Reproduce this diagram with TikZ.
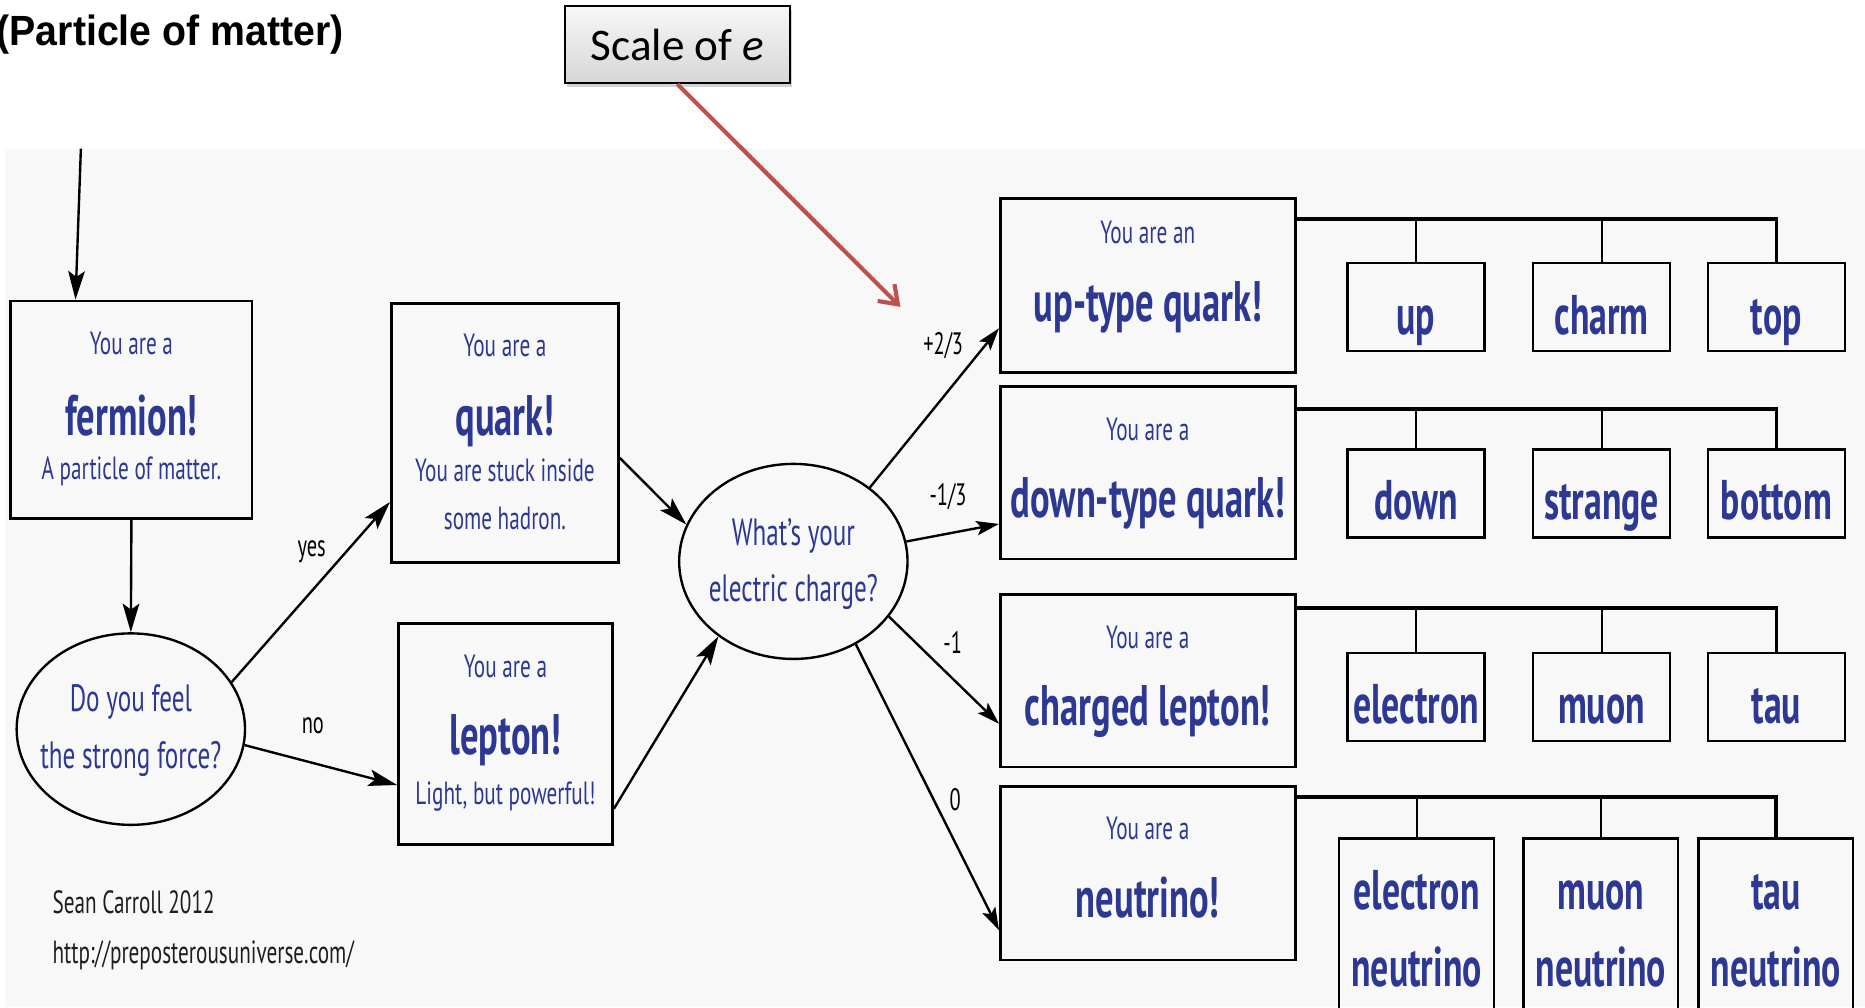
\documentclass[tikz,border=0pt]{standalone}
\usepackage{fontspec}
\usetikzlibrary{arrows.meta,shapes.geometric,shadows}
\setmainfont{PT Sans}
% condensed sans for the flow chart, plain sans for the callout
\newfontfamily\condf[FakeStretch=0.66]{PT Sans}
\newfontfamily\condbf[FakeStretch=0.64]{PT Sans Bold}
\newfontfamily\titlef[FakeStretch=0.93]{Liberation Sans}
\newfontfamily\calloutf{Carlito}
\definecolor{inkblue}{RGB}{44,56,145}
\definecolor{panelgray}{RGB}{248,248,248}
\definecolor{calloutred}{RGB}{192,80,77}
\definecolor{credit}{RGB}{30,30,30}

\tikzset{
  bx/.style={draw, line width=2.2pt, inner sep=0pt},
  leaf/.style={draw, line width=2pt, inner sep=0pt, minimum width=115pt, minimum height=74pt},
  leaftall/.style={draw, line width=2pt, inner sep=0pt, minimum width=130pt, minimum height=170pt},
  oval/.style={draw, ellipse, line width=2pt, inner sep=0pt},
  small/.style={inner sep=0pt, anchor=base, text=inkblue, font=\condf\fontsize{27}{30}\selectfont},
  quest/.style={inner sep=0pt, anchor=base, text=inkblue, font=\condf\fontsize{32}{35}\selectfont},
  big/.style={inner sep=0pt, anchor=base, text=inkblue, font=\condbf\fontsize{48}{52}\selectfont},
  leaftxt/.style={inner sep=0pt, anchor=base, text=inkblue, font=\condbf\fontsize{47}{50}\selectfont},
  lbl/.style={inner sep=0pt, anchor=base, text=black, font=\condf\fontsize{26}{28}\selectfont},
  cred/.style={inner sep=0pt, anchor=base west, text=credit, font=\condf\fontsize{27}{30}\selectfont},
  arr/.style={line width=2pt, -{Stealth[length=24pt,width=14pt,inset=5pt]}},
  arrs/.style={line width=2pt, -{Stealth[length=19pt,width=12pt,inset=4pt]}},
  bus/.style={line width=3pt},
  drop/.style={line width=1.6pt},
}

\begin{document}
\begin{tikzpicture}[x=1pt, y=-1pt]
\useasboundingbox (0,0) rectangle (1568,847);
\fill[white] (0,0) rectangle (1568,847);
\fill[panelgray] (4,125) rectangle (1568,847);

% heading and callout
\node[inner sep=0pt, anchor=base west, font=\titlef\bfseries\fontsize{35.5}{38}\selectfont] (title) at (-3,38) {(Particle of matter)};
\node[draw, line width=1.5pt, inner sep=0pt, minimum width=189pt, minimum height=65pt,
      top color=gray!6, bottom color=gray!32,
      drop shadow={shadow xshift=2pt, shadow yshift=-3pt, opacity=0.35},
      font=\calloutf\fontsize{38}{40}\selectfont] (scale) at (569.5,37.5) {Scale of \textit{e}};
\coordinate (redtip) at (757,258);
\draw[calloutred, line width=3.5pt, -{Straight Barb[length=14pt,width=20pt]}] (scale.south) -- (redtip);

% fermion and the strong-force question
\coordinate (entry) at (68,125);
\node[bx, minimum width=203pt, minimum height=183pt] (fermion) at (110.5,344.5) {};
\node[small] (fermionA) at (110.5,298) {You are a};
\node[big]   (fermionB) at (110.5,366) {fermion!};
\node[small] (fermionC) at (110.5,403) {A particle of matter.};

\node[oval, minimum width=192pt, minimum height=161pt] (feel) at (110,613) {};
\node[quest] (feelA) at (110,598) {Do you feel};
\node[quest] (feelB) at (110,646) {the strong force?};

% quark and lepton
\node[bx, minimum width=191pt, minimum height=218pt] (quark) at (424.5,364) {};
\node[small] (quarkA) at (424.5,300) {You are a};
\node[big]   (quarkB) at (424.5,366) {quark!};
\node[small] (quarkC) at (424.5,405) {You are stuck inside};
\node[small] (quarkD) at (424.5,445) {some hadron.};

\node[bx, minimum width=180pt, minimum height=186pt] (lepton) at (425,617) {};
\node[small] (leptonA) at (425,570) {You are a};
\node[big]   (leptonB) at (425,634) {lepton!};
\node[small] (leptonC) at (425,676) {Light, but powerful!};

% charge question
\node[oval, minimum width=192pt, minimum height=164pt] (charge) at (667,472) {};
\node[quest] (chargeA) at (667,459) {What’s your};
\node[quest] (chargeB) at (667,506) {electric charge?};

% the four families
\node[bx, minimum width=248pt, minimum height=146pt] (uptype) at (965,240) {};
\node[small] (uptypeA) at (965,205) {You are an};
\node[big]   (uptypeB) at (965,270) {up-type quark!};

\node[bx, minimum width=248pt, minimum height=145pt] (downtype) at (965,397.5) {};
\node[small] (downtypeA) at (965,370) {You are a};
\node[big]   (downtypeB) at (965,435) {down-type quark!};

\node[bx, minimum width=248pt, minimum height=145pt] (charged) at (965,572.5) {};
\node[small] (chargedA) at (965,545) {You are a};
\node[big]   (chargedB) at (965,610) {charged lepton!};

\node[bx, minimum width=248pt, minimum height=146pt] (neutrino) at (965,734) {};
\node[small] (neutrinoA) at (965,706) {You are a};
\node[big]   (neutrinoB) at (965,771) {neutrino!};

% particles
\node[leaf] (up)    at (1190.5,258) {};
\node[leaf] (charm) at (1346.5,258) {};
\node[leaf] (top)   at (1493.5,258) {};
\node[leaftxt] (upT)    at (1190.5,281) {up};
\node[leaftxt] (charmT) at (1346.5,281) {charm};
\node[leaftxt] (topT)   at (1493.5,281) {top};

\node[leaf] (down)    at (1190.5,415) {};
\node[leaf] (strange) at (1346.5,415) {};
\node[leaf] (bottom)  at (1493.5,415) {};
\node[leaftxt] (downT)    at (1190.5,437) {down};
\node[leaftxt] (strangeT) at (1346.5,437) {strange};
\node[leaftxt] (bottomT)  at (1493.5,437) {bottom};

\node[leaf] (electron) at (1190.5,586) {};
\node[leaf] (muon)     at (1346.5,586) {};
\node[leaf] (tau)      at (1493.5,586) {};
\node[leaftxt] (electronT) at (1190.5,608) {electron};
\node[leaftxt] (muonT)     at (1346.5,608) {muon};
\node[leaftxt] (tauT)      at (1493.5,608) {tau};

\node[leaftall] (enu)   at (1191,790) {};
\node[leaftall] (munu)  at (1346,790) {};
\node[leaftall] (taunu) at (1493,790) {};
\node[leaftxt] (enuA)   at (1191,765) {electron};
\node[leaftxt] (enuB)   at (1191,829) {neutrino};
\node[leaftxt] (munuA)  at (1346,765) {muon};
\node[leaftxt] (munuB)  at (1346,829) {neutrino};
\node[leaftxt] (taunuA) at (1493,765) {tau};
\node[leaftxt] (taunuB) at (1493,829) {neutrino};

% credits
\node[cred] (credA) at (44,768) {Sean Carroll 2012};
\node[cred] (credB) at (44,810) {http://preposterousuniverse.com/};

% flow arrows
\draw[arr] (entry) -- ([xshift=-47pt]fermion.north);
\draw[arr] (fermion.south) -- (feel.north);
\draw[arr] (feel.25) -- ([yshift=-58pt]quark.west);
\draw[arr] (feel.-8) -- ([yshift=-43pt]lepton.west);
\draw[arr] ([yshift=-21pt]quark.east) -- (charge.161);
\draw[arr] ([yshift=-63pt]lepton.east) -- (charge.225);
\draw[arrs] (charge.44) -- ([yshift=-36pt]uptype.west);
\draw[arrs] (charge.10) -- ([yshift=-43pt]downtype.west);
\draw[arrs] (charge.-30) -- ([yshift=-36pt]charged.west);
\draw[arrs] (charge.-53) -- ([yshift=-48pt]neutrino.west);

\node[lbl] (yes) at (262,468) {yes};
\node[lbl] (no)  at (263,617) {no};
\node[lbl] (qup)   at (793,298) {+2/3};
\node[lbl] (qdown) at (797,425) {-1/3};
\node[lbl] (qlep)  at (801,549) {-1};
\node[lbl] (qnu)   at (803,681) {0};

% family trees
\coordinate (bus1) at (0,184);
\coordinate (bus2) at (0,344);
\coordinate (bus3) at (0,511);
\coordinate (bus4) at (0,670);
\draw[bus] (uptype.east |- bus1) -| (top.north);
\draw[drop] (up.north) -- (up.north |- bus1);
\draw[drop] (charm.north) -- (charm.north |- bus1);
\draw[bus] (downtype.east |- bus2) -| (bottom.north);
\draw[drop] (down.north) -- (down.north |- bus2);
\draw[drop] (strange.north) -- (strange.north |- bus2);
\draw[bus] (charged.east |- bus3) -| (tau.north);
\draw[drop] (electron.north) -- (electron.north |- bus3);
\draw[drop] (muon.north) -- (muon.north |- bus3);
\draw[bus] (neutrino.east |- bus4) -| (taunu.north);
\draw[drop] (enu.north) -- (enu.north |- bus4);
\draw[drop] (munu.north) -- (munu.north |- bus4);
\end{tikzpicture}
\end{document}
